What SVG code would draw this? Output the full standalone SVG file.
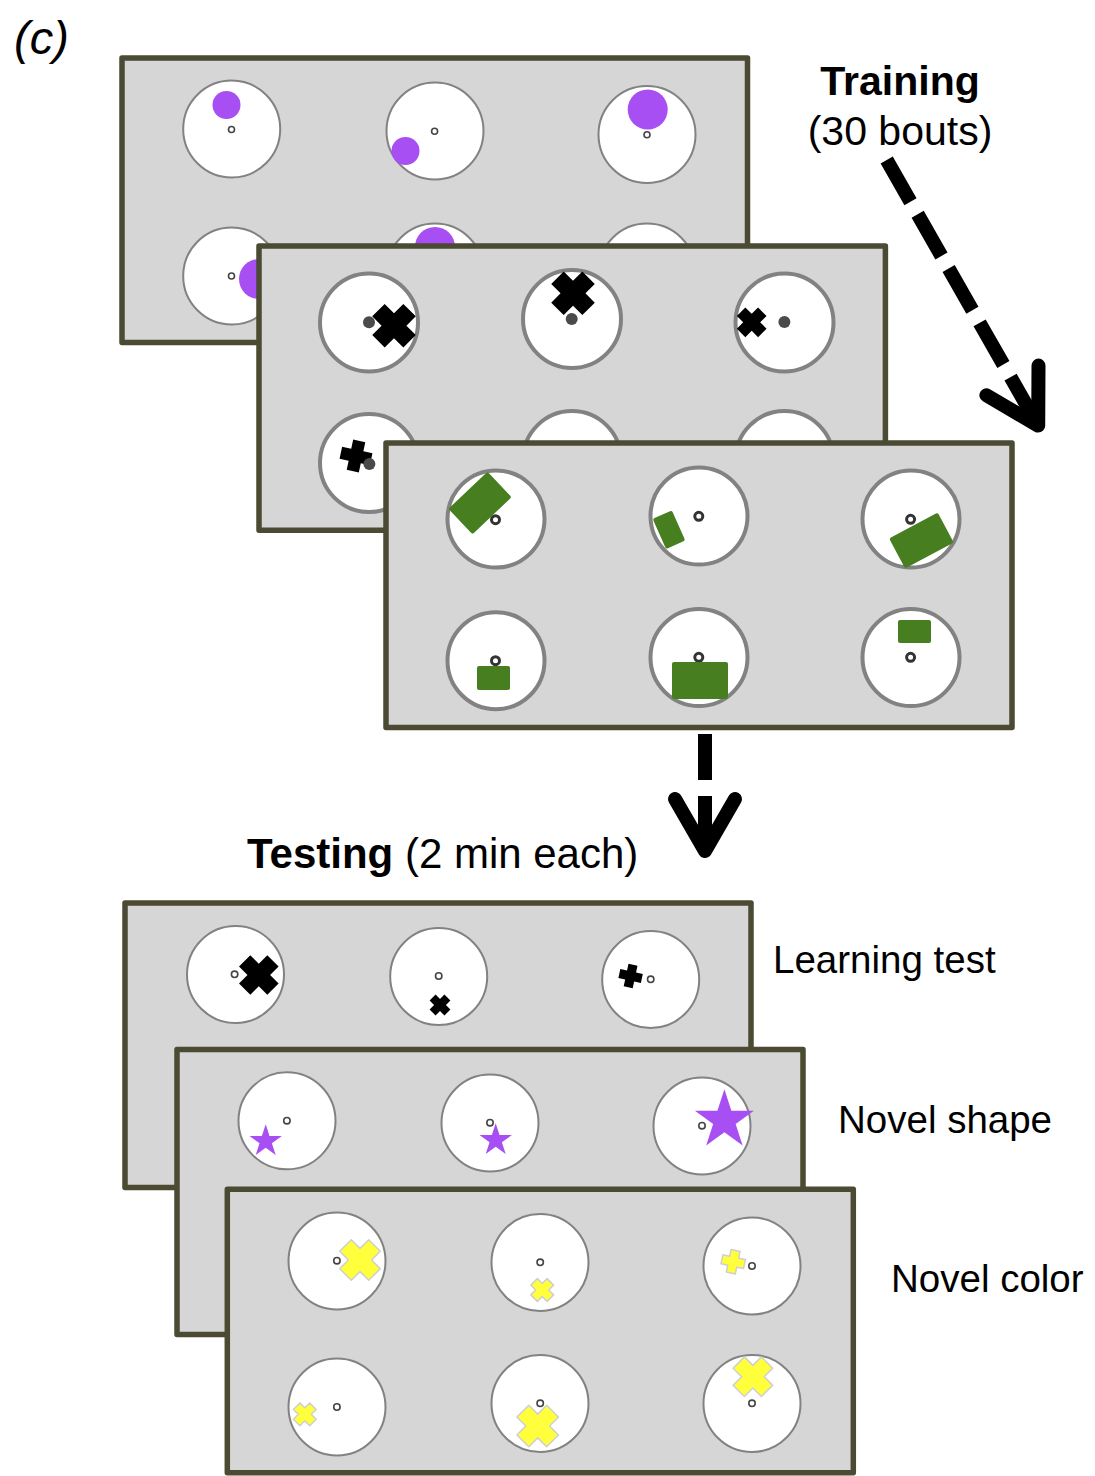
<svg xmlns="http://www.w3.org/2000/svg" xmlns:xlink="http://www.w3.org/1999/xlink" width="1095" height="1476" viewBox="0 0 1095 1476">
<style>
.panel{fill:#d6d6d6;stroke:#4b4a33;stroke-width:5.5;stroke-linejoin:round}
.arena{fill:#fff;stroke:#828282;stroke-width:2}
.arenaT{fill:#fff;stroke:#828282;stroke-width:4}
.hole{fill:#fff;stroke:#444;stroke-width:1.6}
.dot{fill:#4a4a4a}
.ring{fill:#fff;stroke:#333;stroke-width:3}
.purple{fill:#a74ff2}
.green{fill:#477e1f}
.blk{fill:#000}
.yel{fill:#ffff3c;stroke:#cfcfcf;stroke-linejoin:round}
.t{font-family:"Liberation Sans",Arial,Helvetica,sans-serif;fill:#000}
.arrow{fill:none;stroke:#000;stroke-width:14}
.head{fill:none;stroke:#000;stroke-width:14;stroke-linecap:round;stroke-linejoin:round}
</style>
<defs>
<path id="plus" d="M-0.4,-1 H0.4 V-0.4 H1 V0.4 H0.4 V1 H-0.4 V0.4 H-1 V-0.4 H-0.4 Z"/>
<path id="star" d="M0,-1 L0.2245,-0.309 L0.9511,-0.309 L0.3633,0.118 L0.5878,0.809 L0,0.382 L-0.5878,0.809 L-0.3633,0.118 L-0.9511,-0.309 L-0.2245,-0.309 Z"/>
</defs>
<rect width="1095" height="1476" fill="#fff"/>

<g id="label-c"><text class="t" x="14" y="54" font-size="47" font-style="italic">(c)</text></g>

<g id="training-panel-1">
<rect class="panel" x="122" y="58" width="625.5" height="284.5"/>
<circle class="arena" cx="231.7" cy="129" r="48.5"/>
<circle class="purple" cx="226.5" cy="105" r="14"/>
<circle class="hole" cx="231.5" cy="129.5" r="3"/>
<circle class="arena" cx="435" cy="131" r="48.5"/>
<circle class="purple" cx="405.5" cy="151" r="14"/>
<circle class="hole" cx="434.6" cy="131.3" r="3"/>
<circle class="arena" cx="647" cy="134.5" r="48.5"/>
<circle class="purple" cx="647.7" cy="109.5" r="20"/>
<circle class="hole" cx="647" cy="134.7" r="3"/>
<circle class="arena" cx="231.7" cy="276" r="48.5"/>
<circle class="purple" cx="259" cy="279" r="20"/>
<circle class="hole" cx="231.5" cy="276" r="3"/>
<circle class="arena" cx="435" cy="272" r="48.5"/>
<circle class="purple" cx="435" cy="247" r="20"/>
<circle class="arena" cx="647" cy="272" r="48.5"/>
</g>

<g id="training-panel-2">
<rect class="panel" x="259" y="246" width="626.4" height="284.3"/>
<circle class="arenaT" cx="369" cy="322.5" r="49"/>
<circle class="dot" cx="369" cy="322.3" r="6"/>
<use href="#plus" class="blk" transform="translate(394,325.7) rotate(45) scale(22)"/>
<circle class="arenaT" cx="572" cy="319" r="49"/>
<use href="#plus" class="blk" transform="translate(573,293.3) rotate(45) scale(22)"/>
<circle class="dot" cx="571.7" cy="319" r="6"/>
<circle class="arenaT" cx="784.5" cy="322.5" r="49"/>
<circle class="dot" cx="784.4" cy="322" r="6"/>
<use href="#plus" class="blk" transform="translate(751.7,322.3) rotate(45) scale(15)"/>
<circle class="arenaT" cx="369" cy="463" r="49"/>
<use href="#plus" class="blk" transform="translate(356,456) rotate(12) scale(15.5)"/>
<circle class="dot" cx="369.4" cy="464" r="6"/>
<circle class="arenaT" cx="572" cy="460" r="49"/>
<circle class="arenaT" cx="784.5" cy="460" r="49"/>
</g>

<g id="training-panel-3">
<rect class="panel" x="386" y="443" width="626" height="284.5"/>
<circle class="arenaT" cx="496" cy="519" r="48.5"/>
<circle class="ring" cx="495.5" cy="519.7" r="4"/>
<rect class="green" x="-27" y="-17.5" width="54" height="35" rx="2" transform="translate(480,503) rotate(-43.4)"/>
<circle class="arenaT" cx="699" cy="516" r="48.5"/>
<circle class="ring" cx="698.8" cy="516.3" r="4"/>
<rect class="green" x="-10.5" y="-16.5" width="21" height="33" rx="2" transform="translate(669,529.7) rotate(-24)"/>
<circle class="arenaT" cx="911" cy="519" r="48.5"/>
<circle class="ring" cx="910.6" cy="519.3" r="4"/>
<rect class="green" x="-27.5" y="-17" width="55" height="34" rx="2" transform="translate(921.4,540.5) rotate(-28)"/>
<circle class="arenaT" cx="496" cy="660.7" r="48.5"/>
<circle class="ring" cx="495.5" cy="660.7" r="4"/>
<rect class="green" x="477" y="666" width="33" height="24" rx="2"/>
<circle class="arenaT" cx="699" cy="657.5" r="48.5"/>
<circle class="ring" cx="698.8" cy="657.3" r="4"/>
<rect class="green" x="672" y="662" width="56" height="37" rx="2"/>
<circle class="arenaT" cx="911" cy="657.5" r="48.5"/>
<rect class="green" x="898" y="620" width="33" height="23" rx="2"/>
<circle class="ring" cx="910.6" cy="657.3" r="4"/>
</g>

<g id="training-label">
<text class="t" x="900" y="95" font-size="41" font-weight="bold" text-anchor="middle">Training</text>
<text class="t" x="900" y="145" font-size="41" text-anchor="middle">(30 bouts)</text>
</g>

<g id="testing-label">
<text class="t" x="247" y="868" font-size="42"><tspan font-weight="bold">Testing</tspan> (2 min each)</text>
</g>

<g id="connectors">
<path class="arrow" d="M886.7,160 L1038.2,425.6" stroke-dasharray="48 14.5"/>
<polyline class="head" points="1038.5,365.6 1038.2,425.6 986.4,395.3"/>
<path class="arrow" d="M705,734 V780 M705,796 V851"/>
<polyline class="head" points="675,799 705,851 735,799"/>
</g>

<g id="test-learning">
<rect class="panel" x="125" y="903" width="626" height="284.5"/>
<circle class="arena" cx="235.5" cy="974.5" r="48.5"/>
<circle class="hole" cx="234.6" cy="974.3" r="3.2"/>
<use href="#plus" class="blk" transform="translate(258.8,975) rotate(45) scale(20)"/>
<circle class="arena" cx="438.7" cy="976.5" r="48.5"/>
<circle class="hole" cx="438.7" cy="976" r="3.2"/>
<use href="#plus" class="blk" transform="translate(440,1005) rotate(45) scale(10.5)"/>
<circle class="arena" cx="650.7" cy="979.5" r="48.5"/>
<circle class="hole" cx="650.7" cy="979.3" r="3.2"/>
<use href="#plus" class="blk" transform="translate(630.6,976) rotate(12) scale(11.5)"/>
</g>
<g id="label-learning"><text class="t" x="773" y="973" font-size="38.5">Learning test</text></g>

<g id="test-shape">
<rect class="panel" x="177" y="1049.5" width="626" height="285"/>
<circle class="arena" cx="287" cy="1120.8" r="48.5"/>
<circle class="hole" cx="286.9" cy="1120.7" r="3.2"/>
<use href="#star" class="purple" transform="translate(265.7,1141.3) scale(17)"/>
<circle class="arena" cx="490" cy="1123" r="48.5"/>
<circle class="hole" cx="490" cy="1122.7" r="3.2"/>
<use href="#star" class="purple" transform="translate(495.7,1140.3) scale(17)"/>
<circle class="arena" cx="702" cy="1126" r="48.5"/>
<circle class="hole" cx="702" cy="1125.7" r="3.2"/>
<use href="#star" class="purple" transform="translate(724.4,1120.3) scale(31)"/>
</g>
<g id="label-shape"><text class="t" x="838" y="1133" font-size="38.5">Novel shape</text></g>

<g id="test-color">
<rect class="panel" x="227.3" y="1189.3" width="626" height="283.5"/>
<circle class="arena" cx="337" cy="1261" r="48.5"/>
<circle class="hole" cx="336.9" cy="1260.7" r="3.2"/>
<use href="#plus" class="yel" stroke-width="0.073" transform="translate(360,1260) rotate(45) scale(20.5)"/>
<circle class="arena" cx="540" cy="1262.5" r="48.5"/>
<circle class="hole" cx="540.2" cy="1262.3" r="3.2"/>
<use href="#plus" class="yel" stroke-width="0.13" transform="translate(542.2,1290) rotate(45) scale(11.5)"/>
<circle class="arena" cx="752" cy="1266" r="48.5"/>
<circle class="hole" cx="752" cy="1266" r="3.2"/>
<use href="#plus" class="yel" stroke-width="0.13" transform="translate(733.2,1261.7) rotate(12) scale(11.5)"/>
<circle class="arena" cx="337" cy="1407" r="48.5"/>
<circle class="hole" cx="336.9" cy="1407" r="3.2"/>
<use href="#plus" class="yel" stroke-width="0.13" transform="translate(304.8,1414.3) rotate(45) scale(11.5)"/>
<circle class="arena" cx="540" cy="1403.5" r="48.5"/>
<circle class="hole" cx="540.2" cy="1403.3" r="3.2"/>
<use href="#plus" class="yel" stroke-width="0.071" transform="translate(537.7,1426) rotate(45) scale(21)"/>
<circle class="arena" cx="752" cy="1403.5" r="48.5"/>
<circle class="hole" cx="752" cy="1403.3" r="3.2"/>
<use href="#plus" class="yel" stroke-width="0.075" transform="translate(752.9,1376.7) rotate(45) scale(20)"/>
</g>
<g id="label-color"><text class="t" x="891" y="1292" font-size="38.5">Novel color</text></g>
</svg>
